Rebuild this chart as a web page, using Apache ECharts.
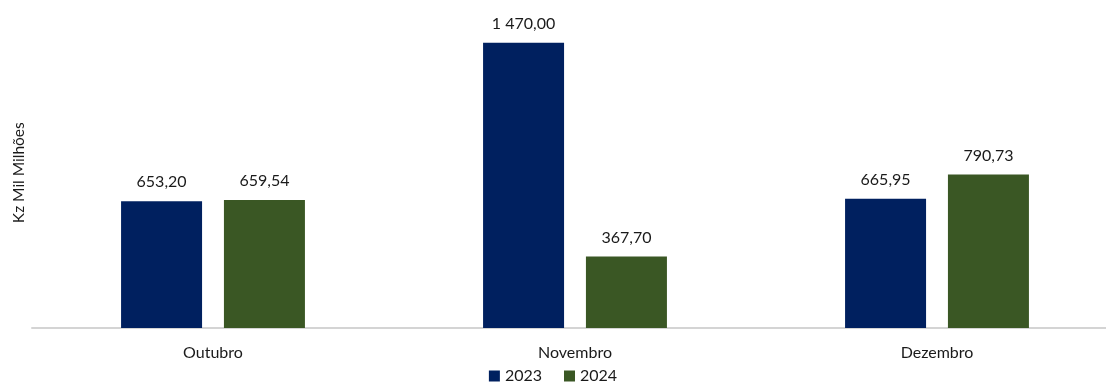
<!DOCTYPE html>
<html>
<head>
<meta charset="utf-8">
<script src="https://cdn.jsdelivr.net/npm/echarts@6/dist/echarts.min.js"></script>
<style>
  html, body { margin: 0; padding: 0; background: #ffffff; }
  #chart { width: 1106px; height: 390px; }
</style>
</head>
<body>
<div id="chart"></div>
<script>
// Monthly values, Kz Mil Milhões
const months = ['Outubro', 'Novembro', 'Dezembro'];
const values2023 = [653.20, 1470.00, 665.95];
const values2024 = [659.54, 367.70, 790.73];
const seriesNames = ['2023', '2024'];

const FONT = 'Lato, "Open Sans", sans-serif';

// Portuguese number style: space as thousands separator, comma for decimals
function fmt(v) {
  const parts = v.toFixed(2).split('.');
  const int = parts[0].replace(/\B(?=(\d{3})+(?!\d))/g, ' ');
  return int + ',' + parts[1];
}

const chart = echarts.init(document.getElementById('chart'));

const labelStyle = {
  show: true,
  position: 'top',
  distance: 11,
  color: '#1a1a1a',
  fontFamily: FONT,
  fontSize: 16,
  formatter: p => fmt(p.value)
};

chart.setOption({
  animation: false,
  grid: {
    left: 32, right: -12, top: 17.4, height: 310.6,
    containLabel: false,
    outerBoundsMode: 'none'
  },
  legend: {
    bottom: 1,
    left: 'center',
    itemWidth: 11,
    itemHeight: 11,
    itemGap: 22,
    icon: 'rect',
    textStyle: { fontFamily: FONT, fontSize: 16, color: '#1a1a1a' },
    data: seriesNames
  },
  xAxis: {
    type: 'category',
    data: months,
    axisLine: { lineStyle: { color: '#d4d4d4', width: 2 } },
    axisTick: { show: false },
    axisLabel: { margin: 17, fontFamily: FONT, fontSize: 16, color: '#1a1a1a' }
  },
  yAxis: {
    type: 'value',
    min: 0,
    max: 1600,
    name: 'Kz Mil Milhões',
    nameLocation: 'middle',
    nameGap: 5,
    nameTextStyle: { fontFamily: FONT, fontSize: 15.5, color: '#1a1a1a' },
    axisLabel: { show: false },
    axisLine: { show: false },
    axisTick: { show: false },
    splitLine: { show: false }
  },
  series: [
    {
      name: seriesNames[0],
      type: 'bar',
      data: values2023,
      barWidth: 81,
      barGap: '27%',
      itemStyle: { color: '#00205f' },
      label: labelStyle
    },
    {
      name: seriesNames[1],
      type: 'bar',
      data: values2024,
      barWidth: 81,
      itemStyle: { color: '#3a5724' },
      label: labelStyle
    }
  ]
});
</script>
</body>
</html>
